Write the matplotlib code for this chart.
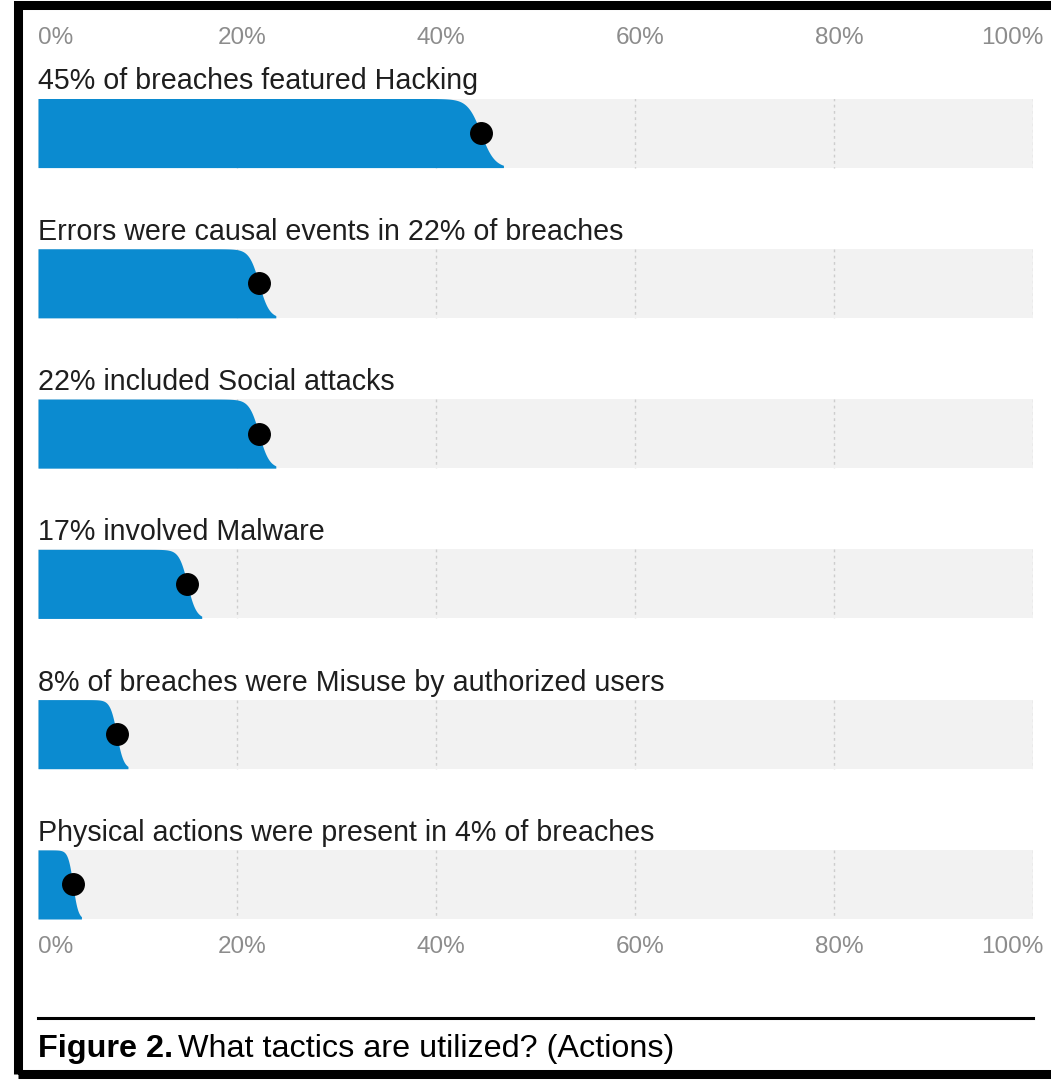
#!/usr/bin/env python3
import numpy as np
import matplotlib
matplotlib.use("Agg")
import matplotlib.pyplot as plt
from matplotlib.patches import Rectangle
from matplotlib.lines import Line2D

# Data
labels = [
    "45% of breaches featured Hacking",
    "Errors were causal events in 22% of breaches",
    "22% included Social attacks",
    "17% involved Malware",
    "8% of breaches were Misuse by authorized users",
    "Physical actions were present in 4% of breaches",
]
dot_values = [44.5, 22.2, 22.2, 15.0, 7.9, 3.5]
tick_values = [0, 20, 40, 60, 80, 100]
tick_labels = ["0%", "20%", "40%", "60%", "80%", "100%"]

W, H = 1051, 1081
blue = "#0b8bd0"
plt.rcParams["font.family"] = ["Liberation Sans", "DejaVu Sans"]

fig = plt.figure(figsize=(W / 100, H / 100), dpi=100)
fig.patch.set_facecolor("white")

# axes spans the bar area: x 0..100% -> 38..1033 px, bars from 99 to 919 px
ax = fig.add_axes([38 / W, 1 - 919 / H, 995 / W, 820 / H])
ax.set_xlim(0, 100)
ax.set_ylim(5.23, -0.2265)
ax.axis("off")

half = 0.23
for i, v in enumerate(dot_values):
    # grey track
    ax.barh(i, 100, height=2 * half, left=0, color="#f2f2f2", zorder=1)
    # dashed gridlines inside the track
    ax.vlines(tick_values[1:], i - half, i + half, colors="#cdcdcd",
              linestyles=(0, (2, 2.5)), linewidth=1, zorder=2)
    # blue bar with a soft sloped end around the value
    hw = 0.28 * np.sqrt(v) + 0.3
    s = hw / 3.2
    x = np.linspace(0, min(v + 1.05 * hw, 100), 500)
    frac = 1 / (1 + np.exp((x - v) / s))
    ax.fill_between(x, i + half, i + half - 2 * half * frac, color=blue,
                    linewidth=0, zorder=3)
    ax.plot(v, i, "o", ms=15.5, color="black", zorder=4)
    ax.text(0, i - half - 0.06, labels[i], ha="left", va="baseline",
            fontsize=20.6, color="#1e1e1e")

# tick labels top and bottom
for yy in (-0.633, 5.417):
    for t, lab in zip(tick_values, tick_labels):
        if t == 0:
            ax.text(0, yy, lab, ha="left", va="center", fontsize=17.5, color="#8c8c8c")
        elif t == 100:
            ax.text(101.1, yy, lab, ha="right", va="center", fontsize=17.5, color="#8c8c8c")
        else:
            ax.text(t + 0.5, yy, lab, ha="center", va="center", fontsize=17.5, color="#8c8c8c")

# caption rule and caption
fig.add_artist(Line2D([38 / W, 1033 / W], [1 - 1018 / H] * 2, color="black",
                      linewidth=2.2, transform=fig.transFigure))
cap_font = ["Liberation Sans Narrow", "Liberation Sans", "DejaVu Sans"]
bold = fig.text(38 / W, 1 - 1057 / H, "Figure 2.", ha="left", va="baseline",
                fontsize=23.3, fontweight="bold", family=cap_font, color="black")
fig.canvas.draw()
bb = bold.get_window_extent()
fig.text((bb.x1 + 5) / W, 1 - 1057 / H, "What tactics are utilized? (Actions)",
         ha="left", va="baseline", fontsize=23.3, family=cap_font, color="black")

# black frame around the figure (right side falls outside the crop)
fig.add_artist(Rectangle((17.5 / W, 1 - 1074 / H), 1.2, (1074 - 4.5) / H,
                         transform=fig.transFigure, fill=False,
                         edgecolor="black", linewidth=6.5))

fig.savefig("out.png", dpi=100)
